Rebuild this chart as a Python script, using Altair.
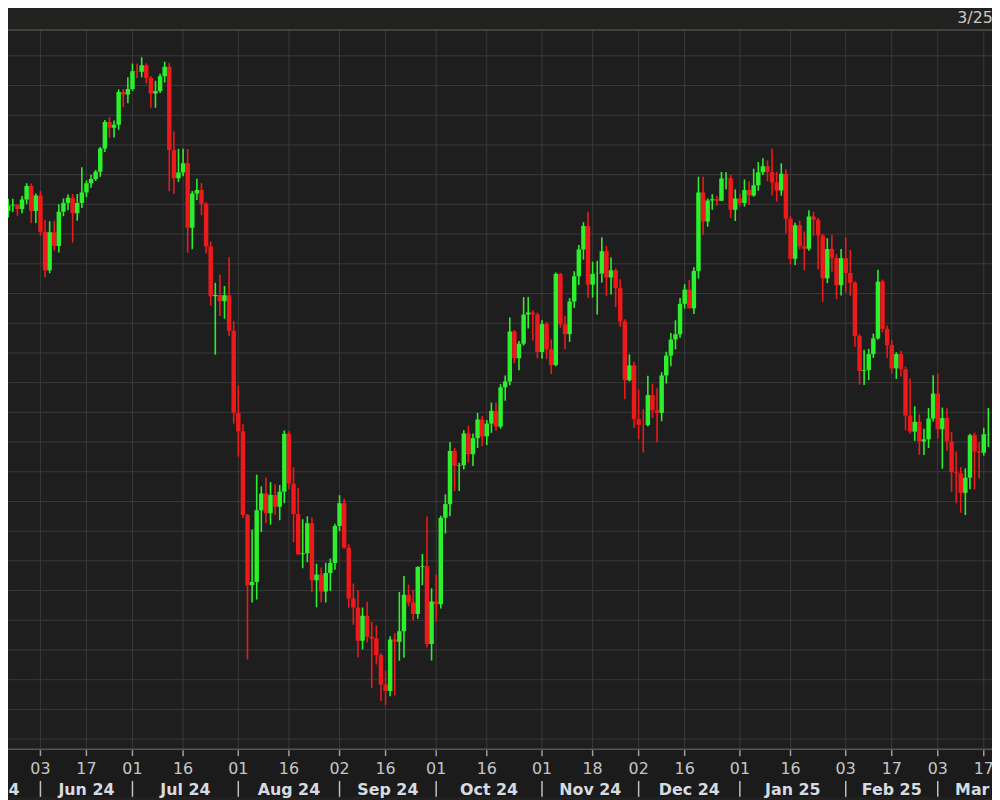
import altair as alt
import pandas as pd

# ---- candle data (daily, first bar = index -9, index 0 = 03 Jun) ----
first_index = -9
opens = [156.22,156.18,156.78,156.96,156.99,156.84,157.16,157.62,156.78,
 157.30,156.08,154.78,156.06,155.60,156.75,157.05,157.22,156.70,157.05,157.40,157.71,157.85,158.10,158.88,159.77,159.58,159.68,160.78,160.70,
 160.88,161.48,161.46,161.68,161.25,160.73,160.82,161.31,161.63,158.83,157.88,158.07,158.38,156.21,157.37,157.48,157.02,155.59,153.91,153.95,153.74,153.94,152.75,
 149.98,149.36,146.54,144.18,144.29,146.70,147.27,146.60,147.22,146.82,147.33,149.28,147.60,146.58,145.22,145.26,146.27,144.35,144.54,143.97,144.59,144.93,
 146.17,146.94,145.44,143.73,143.43,142.31,143.15,142.45,142.39,141.83,140.84,140.62,142.35,142.28,142.63,143.86,143.60,143.21,144.79,144.82,142.20,
 143.63,143.54,146.45,146.91,148.70,148.20,148.22,149.29,148.59,149.13,149.76,149.19,149.62,150.05,149.52,150.84,151.04,152.72,151.82,152.31,153.29,153.36,153.30,
 152.03,152.97,152.12,151.59,154.66,152.96,152.63,153.73,154.58,155.48,156.27,154.30,154.66,154.67,155.42,154.54,154.78,154.19,153.06,151.08,151.58,
 149.77,149.58,149.57,150.58,150.07,149.98,151.24,151.91,152.45,152.63,153.65,154.13,153.50,154.76,157.40,156.42,157.13,157.17,157.12,157.87,157.88,156.82,
 157.20,157.05,157.48,157.30,157.64,158.08,158.28,158.09,157.74,157.47,158.03,156.52,155.17,156.30,155.59,155.51,156.59,156.48,155.95,154.51,155.50,155.20,154.28,
 155.19,154.69,154.36,152.57,151.39,151.42,151.96,152.49,154.40,152.81,152.26,151.48,151.96,151.45,149.89,149.35,149.68,149.02,149.09,149.79,
 150.63,149.43,149.81,149.02,147.99,147.95,147.29,147.80,149.23,148.68,148.64,149.26]
highs = [156.47,156.80,157.19,157.19,157.01,157.28,157.71,157.70,157.37,
 157.45,156.48,156.43,156.45,157.00,157.20,157.33,157.35,157.35,158.25,157.80,158.00,158.16,158.93,159.84,159.93,159.82,160.87,160.88,161.28,
 161.74,161.74,161.95,161.75,161.32,161.16,161.40,161.80,161.76,159.45,158.87,158.87,158.86,157.45,157.86,157.72,157.08,155.75,154.36,154.63,154.25,155.22,153.07,
 150.89,149.60,146.58,146.06,147.90,147.51,147.81,147.65,147.58,147.55,149.39,149.36,148.15,147.46,146.40,146.50,146.47,144.90,144.78,144.94,145.08,146.25,
 147.21,147.09,145.56,144.24,144.02,143.43,143.62,142.94,142.83,141.90,141.30,142.46,142.56,143.95,144.49,144.20,144.03,144.82,145.23,146.49,144.08,
 144.54,146.52,147.24,149.00,148.80,148.30,149.40,149.55,149.29,149.98,149.88,149.74,150.33,150.32,150.95,151.24,153.19,152.77,152.40,153.88,153.88,153.43,153.36,
 153.10,153.05,152.45,154.71,154.69,153.25,153.85,154.75,155.63,156.40,156.75,155.07,155.10,155.89,155.60,155.21,154.84,154.48,153.13,151.95,151.70,
 150.76,150.10,151.23,150.96,150.81,151.35,152.04,152.67,153.10,153.85,154.31,154.45,154.88,157.93,157.93,157.20,157.34,157.28,158.09,158.08,158.00,157.50,
 157.36,157.84,157.77,158.20,158.43,158.55,158.48,158.87,158.10,158.38,158.18,156.60,156.38,156.45,156.09,156.80,156.75,156.55,156.00,155.86,155.97,155.32,155.50,
 155.89,155.46,154.41,152.64,152.11,152.14,152.65,154.80,154.47,152.92,152.43,152.02,152.07,151.54,151.14,150.20,149.93,149.45,150.15,151.25,
 151.30,150.16,150.14,149.34,148.68,148.16,148.11,149.28,149.32,149.00,149.48,150.15]
lows = [155.90,155.94,156.56,156.74,156.62,156.70,157.01,156.37,156.37,
 155.95,154.55,154.68,155.45,155.38,156.60,156.80,155.72,156.45,156.88,157.24,157.56,157.79,157.93,158.76,159.24,159.25,159.51,160.28,160.40,
 160.82,161.25,161.28,161.07,160.25,160.25,160.75,161.10,157.44,157.36,157.75,157.95,155.37,155.49,157.15,156.63,155.35,153.59,151.94,153.24,153.15,152.56,149.62,
 148.51,146.44,141.68,143.60,143.70,145.97,146.27,146.22,146.55,146.37,146.94,147.41,145.63,145.19,144.75,144.95,143.95,143.44,143.61,143.60,143.99,144.70,
 146.00,145.41,143.42,142.85,141.76,142.02,142.25,140.71,141.51,140.28,140.15,140.44,140.47,141.64,141.74,143.47,142.99,143.05,144.18,142.08,141.65,
 142.97,143.40,145.92,146.50,147.35,147.35,148.08,148.31,148.19,148.80,148.86,148.90,149.31,149.38,149.45,150.39,150.91,151.65,151.42,152.25,152.82,152.42,151.82,
 151.80,151.79,151.29,151.55,152.84,152.12,152.37,153.51,154.29,155.14,153.86,153.86,153.29,154.37,153.91,153.97,153.54,152.88,150.45,151.04,149.47,
 149.09,148.65,149.52,149.81,148.99,149.70,150.97,151.55,152.12,152.51,153.49,153.59,153.31,154.50,155.98,156.25,156.82,156.95,157.11,157.51,156.55,156.44,
 156.94,156.93,156.98,157.26,157.46,157.99,157.78,157.30,157.09,157.29,156.02,154.98,154.96,155.49,154.79,155.44,155.94,154.81,153.72,154.35,154.73,153.81,153.93,
 154.03,153.92,152.21,150.93,150.92,151.09,151.83,152.44,152.69,151.83,151.31,151.12,151.21,149.39,149.28,149.04,148.57,148.56,148.80,149.69,
 149.12,148.10,148.71,147.32,146.94,146.62,146.54,147.41,147.40,147.78,148.54,148.83]
closes = [156.18,156.78,156.96,156.99,156.84,157.16,157.62,156.78,157.30,
 156.08,154.78,156.06,155.60,156.75,157.05,157.22,156.70,157.05,157.40,157.71,157.85,158.10,158.88,159.77,159.58,159.68,160.78,160.70,160.88,
 161.48,161.46,161.68,161.25,160.73,160.82,161.31,161.63,158.83,157.88,158.07,158.38,156.21,157.37,157.48,157.02,155.59,153.91,153.95,153.74,153.94,152.75,149.98,
 149.36,146.54,144.18,144.29,146.70,147.27,146.60,147.22,146.82,147.33,149.28,147.60,146.58,145.22,145.26,146.27,144.35,144.54,143.97,144.59,144.93,146.17,
 146.94,145.44,143.73,143.43,142.31,143.15,142.45,142.39,141.83,140.84,140.62,142.35,142.28,142.63,143.86,143.60,143.21,144.79,144.82,142.20,143.63,
 143.54,146.45,146.91,148.70,148.20,148.22,149.29,148.59,149.13,149.76,149.19,149.62,150.05,149.52,150.84,151.04,152.72,151.82,152.31,153.29,153.36,153.30,152.03,
 152.97,152.12,151.59,154.66,152.96,152.63,153.73,154.58,155.48,156.27,154.30,154.66,154.67,155.42,154.54,154.78,154.19,153.06,151.08,151.58,149.77,
 149.58,149.57,150.58,150.07,149.98,151.24,151.91,152.45,152.63,153.65,154.13,153.50,154.76,157.40,156.42,157.13,157.17,157.12,157.87,157.88,156.82,157.20,
 157.05,157.48,157.30,157.64,158.08,158.28,158.09,157.74,157.47,158.03,156.52,155.17,156.30,155.59,155.51,156.59,156.48,155.95,154.51,155.50,155.20,154.28,155.19,
 154.69,154.36,152.57,151.39,151.42,151.96,152.49,154.40,152.81,152.26,151.48,151.96,151.45,149.89,149.35,149.68,149.02,149.09,149.79,150.63,
 149.43,149.81,149.02,147.99,147.95,147.29,147.80,149.23,148.68,148.64,149.26,149.27]

# ---- axis text ----
tick_index = [0, 10, 20, 31, 43, 54, 65, 75, 86, 97, 109, 120, 130, 140, 152, 163, 175, 185, 195, 205]
tick_label = ["03", "17", "01", "16", "01", "16", "02", "16", "01", "16",
              "01", "18", "02", "16", "01", "16", "03", "17", "03", "17"]
month_start = [-23, 0, 20, 43, 65, 86, 109, 130, 152, 175, 195, 216]
month_label = ["May 24", "Jun 24", "Jul 24", "Aug 24", "Sep 24", "Oct 24",
               "Nov 24", "Dec 24", "Jan 25", "Feb 25", "Mar 25"]
grid_prices = [139, 140, 141, 142, 143, 144, 145, 146, 147, 148, 149, 150,
               151, 152, 153, 154, 155, 156, 157, 158, 159, 160, 161, 162]
corner_text = "3/25"

# ---- layout / style ----
W, PH = 992, 725
GREEN, RED = "#2cf02c", "#ec1a1a"
BG, PLOT_BG, AXIS_BG, GRID = "#212120", "#1e1e1f", "#1c1b1c", "#3a3a3a"
FONT = "DejaVu Sans"

n = len(closes)
candles = pd.DataFrame({
    "idx": list(range(first_index, first_index + n)),
    "open": opens, "high": highs, "low": lows, "close": closes,
})
candles["dir"] = ["up" if c >= o else "down" for o, c in zip(opens, closes)]

ticks = pd.DataFrame({"idx": tick_index, "label": tick_label})
months = pd.DataFrame({
    "idx": [(a + b) / 2 for a, b in zip(month_start[:-1], month_start[1:])],
    "label": month_label,
})
seps = pd.DataFrame({"idx": month_start[1:-1]})
grid = pd.DataFrame({"price": grid_prices})
one = pd.DataFrame({"t": [corner_text]})

xs = alt.Scale(domain=[-7.049, 206.79], nice=False, zero=False, padding=0)
ys = alt.Scale(domain=[138.661, 162.868], nice=False, zero=False)
X = lambda: alt.X("idx:Q", scale=xs, axis=None)
col = alt.Color("dir:N", scale=alt.Scale(domain=["up", "down"], range=[GREEN, RED]), legend=None)

axisbg = alt.Chart(one).mark_rect(color=AXIS_BG).encode(
    x=alt.value(0), x2=alt.value(W), y=alt.value(PH), y2=alt.value(PH + 48))
vgrid = alt.Chart(ticks).mark_rule(color=GRID, strokeWidth=1).encode(
    x=X(), y=alt.value(0), y2=alt.value(PH))
hgrid = alt.Chart(grid).mark_rule(color=GRID, strokeWidth=1).encode(
    y=alt.Y("price:Q", scale=ys, axis=None), x=alt.value(0), x2=alt.value(W))
topline = alt.Chart(one).mark_rule(color="#4c4c4c", strokeWidth=1.5).encode(
    x=alt.value(0), x2=alt.value(W), y=alt.value(0))
botline = alt.Chart(one).mark_rule(color="#555555", strokeWidth=1.5).encode(
    x=alt.value(0), x2=alt.value(W), y=alt.value(PH))

wicks = alt.Chart(candles).mark_rule(strokeWidth=1.6, clip=True).encode(
    x=X(), y=alt.Y("low:Q", scale=ys, axis=None), y2="high:Q", color=col)
bodies = alt.Chart(candles).mark_bar(size=4.5, clip=True).encode(
    x=X(), y=alt.Y("open:Q", scale=ys, axis=None), y2="close:Q", color=col)

tickmarks = alt.Chart(ticks).mark_rule(color="#a0a0a0", strokeWidth=1.5).encode(
    x=X(), y=alt.value(PH + 1), y2=alt.value(PH + 7))
daylabels = alt.Chart(ticks).mark_text(font=FONT, fontSize=16, color="#c6c6c6",
                                        baseline="alphabetic", align="center").encode(
    x=X(), y=alt.value(PH + 25), text="label:N")
sepmarks = alt.Chart(seps).mark_rule(color="#c0c0c0", strokeWidth=1.5).encode(
    x=X(), y=alt.value(PH + 32), y2=alt.value(PH + 48))
monthlabels = alt.Chart(months).mark_text(font=FONT, fontSize=16, fontWeight="bold",
                                           color="#d6dbe0", baseline="alphabetic",
                                           align="center").encode(
    x=X(), y=alt.value(PH + 46), text="label:N")
corner = alt.Chart(one).mark_text(font=FONT, fontSize=16, color="#c8c8c8",
                                  baseline="alphabetic", align="left").encode(
    x=alt.value(957), y=alt.value(-7), text="t:N")

chart = alt.layer(
    axisbg, vgrid, hgrid, topline, botline, wicks, bodies,
    tickmarks, daylabels, sepmarks, monthlabels, corner,
).properties(
    width=W, height=PH,
    autosize=alt.AutoSizeParams(type="none"),
    padding={"left": 0, "right": 0, "top": 19, "bottom": 48},
    background=BG,
).configure_view(fill=PLOT_BG, stroke="transparent")

chart.save("out.html", embed_options={"renderer": "svg", "actions": False})
